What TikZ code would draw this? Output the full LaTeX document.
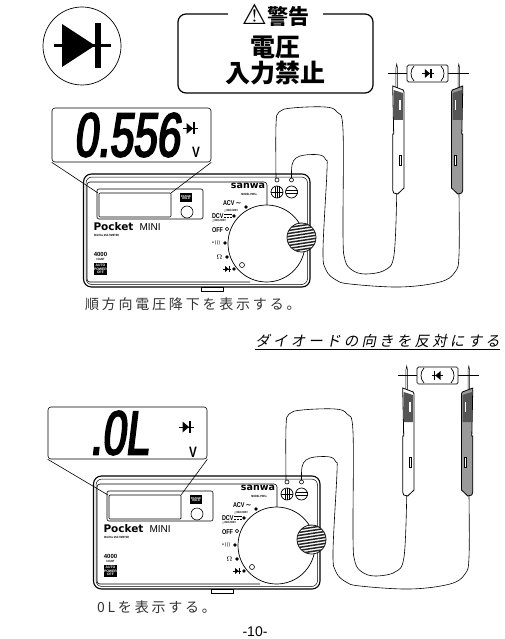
\documentclass[tikz,border=0pt]{standalone}
\usepackage{fontspec}
\usepackage{tikz}
\usetikzlibrary{positioning}
\usetikzlibrary{calc}
\setmainfont{Liberation Sans}
\newfontfamily\cjk{Noto Sans CJK JP}
\newfontfamily\cjkspaced[LetterSpace=20]{Noto Sans CJK JP}
\newfontfamily\cjkslant[LetterSpace=22,FakeSlant=0.2]{Noto Sans CJK JP}
\newfontfamily\lcdfont[FakeSlant=0.12,FakeStretch=0.68,FakeBold=3]{Liberation Sans}
\newfontfamily\narrowfont[FakeStretch=0.78]{Liberation Sans}
\newfontfamily\symfont{DejaVu Sans}
\newcommand{\fs}[1]{\fontsize{#1}{#1}\selectfont}
\definecolor{probegray}{HTML}{9A9A9A}
\definecolor{hatchdark}{HTML}{555555}
\tikzset{
    plain/.style={inner sep=0pt, outer sep=0pt, align=center},
    panellabel/.style={plain, font=\narrowfont\fs{7}\bfseries},
    tinylabel/.style={plain, font=\narrowfont\fs{3}\bfseries},
    caption/.style={plain, anchor=west, text=black!80},
    warnline/.style={plain, font=\cjk\bfseries\fs{25}},
    readout/.style={draw, rounded corners=3pt, line width=0.6pt, minimum height=54pt, minimum width=159pt},
    lcddigits/.style={plain, font=\lcdfont\fs{62}},
    wire/.style={line width=0.6pt},
    seldot/.style={fill, circle, minimum size=3.6pt, inner sep=0pt},
    diodemark/.pic={
        \fill (-3.5,-5.5) -- (-3.5,5.5) -- (3,0) -- cycle;
        \fill (3,-6) rectangle (4.8,6);
        \draw[line width=1pt] (-7,0) -- (7.5,0);
    },
    testprobe/.pic={
        % needle and grip, left hand version
        \draw[line width=0.5pt, fill=white] (3.2,2) -- (3.2,-18) -- (4,-22) -- (4.8,-18) -- (4.8,2);
        \draw[line width=0.8pt, fill=#1] (0,0) -- (10.5,4) -- (11.3,6) -- (11.3,102) -- (5,108) -- (1,107) -- (0,104) -- (0,48) -- (1,48) -- cycle;
        \fill[hatchdark] (1,4) -- (10.2,7) -- (10.2,34) -- (1,34) -- cycle;
        \fill[white] (6.6,14) rectangle (8.2,24);
        \draw[fill=white, line width=0.4pt] (6.2,69) rectangle (8.2,79);
    },
    tester/.pic={
        % case
        \draw[line width=1.1pt, fill=white, rounded corners=8pt] (83.5,174) rectangle (310,287);
        \draw[line width=0.5pt, rounded corners=6pt] (86,177) rectangle (307.5,284.5);
        \draw[line width=0.6pt, fill=white] (201,287) rectangle (223,291);
        \draw[line width=0.6pt, rounded corners=3pt] (267,205) -- (267,182) -- (87,182) -- (87,282) -- (250,282);
        % display
        \draw[line width=0.6pt, rounded corners=2pt] (97,189) rectangle (203,219);
        \draw[line width=0.7pt, rounded corners=1pt] (99,193) rectangle (171,217);
        \coordinate (-lcdl) at (98,193);
        \coordinate (-lcdr) at (171,193);
        \node[plain, fill=black, text=white, font=\fs{2.8}\bfseries, minimum width=12pt, minimum height=9pt] (-hold) at (186,197.5) {RANGE\\HOLD};
        \node[draw, circle, line width=0.6pt, minimum size=12pt, inner sep=0pt] (-holdbtn) at (187,212) {};
        % makers
        \node[plain, font=\symfont\fs{9.5}\bfseries] (-brand) at (248,186) {sanwa};
        \node[tinylabel] (-model) at (249,194) {MODEL:PM7a};
        \node[plain, anchor=west, font=\symfont\fs{10.5}\bfseries] (-pocket) at (93.5,227) {Pocket};
        \node[plain, anchor=west, font=\fs{10}] (-mini) at (139.5,227) {MINI};
        \node[tinylabel, anchor=west] (-dmm) at (94,235) {DIGITAL MULTIMETER};
        \node[plain, font=\fs{6}\bfseries] (-count) at (100.5,254) {4000};
        \node[tinylabel] (-countlbl) at (100.5,259) {COUNT};
        \node[plain, fill=black, text=white, font=\fs{3.4}\bfseries, minimum width=13pt, minimum height=12pt] (-auto) at (100.5,269) {AUTO\\POWER\\OFF};
        % terminals
        \foreach \tx in {277,291.5} {
            \draw[line width=0.6pt, fill=white] (\tx,180) circle (2);
            \draw[line width=0.7pt] (\tx,192) circle (6);
        }
        \draw[line width=0.7pt] (277,186) -- (277,198) (275,186.5) -- (275,197.5) (279,186.5) -- (279,197.5) (271,192) -- (283,192);
        \draw[line width=0.7pt] (285.5,190.5) -- (297.5,190.5) (285.5,193.5) -- (297.5,193.5);
        % dial
        \draw[line width=0.7pt, fill=white] (266.5,243.5) circle (38.5);
        \draw[line width=0.6pt] (242,265) circle (2.5);
        \node[panellabel, anchor=west] (-acv) at (223,203) {ACV\,\symfont\fs{7}∼};
        \node[tinylabel] (-acvmax) at (231,211) {\symfont△\narrowfont MAX.600V};
        \node[panellabel, anchor=west] (-dcv) at (212,216) {DCV};
        \draw[line width=0.8pt] (224,214.5) -- (232,214.5);
        \draw[line width=0.8pt, dash pattern=on 2pt off 1pt] (224,217.5) -- (232,217.5);
        \node[tinylabel] (-dcvmax) at (219,220.5) {\symfont△\narrowfont MAX.600V};
        \node[panellabel] (-off) at (217.5,230) {OFF};
        \node[panellabel, font=\symfont\fs{5}] (-buzz) at (216,243) {•)))};
        \node[panellabel, font=\fs{7}] (-ohm) at (219.5,257) {$\Omega$};
        \node[seldot] (-dota) at (246,207) {};
        \node[seldot] (-dotb) at (234,216) {};
        \node[seldot, fill=none, draw, line width=0.5pt] (-dotc) at (227,229) {};
        \node[seldot] (-dotd) at (225,243) {};
        \node[seldot] (-dote) at (227,257) {};
        \node[seldot] (-dotf) at (234,269) {};
        \pic[scale=0.55] at (227,269) {diodemark};
        % knob
        \draw[fill=white, line width=0.7pt] (301.5,237.5) circle (14.5);
        \begin{scope}
            \clip (301.5,237.5) circle (14.5);
            \foreach \ky in {-4,-1,...,32} {
                \draw[line width=1.5pt, black!85] (285,220+\ky) -- (318,215+\ky);
            }
        \end{scope}
        % leads
        \draw[wire] plot[smooth, tension=0.6] coordinates {(276,178) (276,125) (279,112) (292,108) (325,107) (337,112) (343,130) (343,235) (345,260) (352,270) (365,274) (385,270) (394,255) (396.7,194)};
        \draw[wire] plot[smooth, tension=0.6] coordinates {(291.5,178) (292,165) (296,158) (305,155) (320,155) (326,160) (327,170) (323,250) (326,270) (336,280) (350,284) (400,287) (440,282) (455,272) (459,255) (459,194)};
        % probes and device under test
        \pic at (392.7,86) {testprobe=white};
        \pic[xscale=-1] at (462.8,86) {testprobe=probegray};
        \draw[line width=0.9pt] (388,73) -- (469,73);
        \draw[line width=0.7pt, fill=white, rounded corners=1.5pt] (407,65) -- (448,65) -- (448,82) -- (407,82) -- cycle;
        \draw[line width=0.7pt] (414,66) .. controls (410,70) and (410,77) .. (414,81) (441,66) .. controls (445,70) and (445,77) .. (441,81);
        \pic[scale=0.8, xscale=#1] at (427.7,73.5) {diodemark};
    }
}
\begin{document}
\begin{tikzpicture}[x=1pt, y=-1pt]
    \useasboundingbox (0,0) rectangle (505,639);
    % diode sign
    \node[draw, circle, line width=0.7pt, minimum size=78pt, inner sep=0pt] (signring) at (82,46) {};
    \fill (62,24) -- (62,67) -- (95,45.5) -- cycle;
    \fill (95,23) rectangle (101,68);
    \draw[line width=3pt] (54,46) -- (111,46);
    % warning
    \node[draw, line width=1.2pt, rounded corners=8pt, minimum width=195pt, minimum height=79pt] (warnbox) at (275.5,53.5) {};
    \node[plain, fill=white, minimum width=95pt, minimum height=18pt] (warntitle) at (275.5,15) {\symfont\fs{28}⚠\cjk\bfseries\fs{21}警告};
    \node[warnline] (warntop) at (275.5,47) {電圧};
    \node[warnline] (warnlow) at (275.5,73.5) {入力禁止};
    % first measurement
    \pic (top) at (0,0) {tester=1};
    \node[readout] (readtop) at (131.5,135) {};
    \node[lcddigits, anchor=west] (valuetop) at (74,135) {0.556};
    \pic at (190,128.5) {diodemark};
    \node[plain, font=\narrowfont\fs{15}\bfseries] (volttop) at (196,152.5) {V};
    \draw[line width=0.6pt] (readtop.south west) -- (top-lcdl);
    \draw[line width=0.6pt] (readtop.south east) -- (top-lcdr);
    \node[caption, font=\cjkspaced\fs{14}] (forward) at (85,304) {順方向電圧降下を表示する。};
    \node[plain, font=\cjkslant\fs{14.5}, anchor=east] (reverse) at (500,341) {ダイオードの向きを反対にする};
    \draw[line width=0.7pt] ($(reverse.south west)+(0,2)$) -- ($(reverse.south east)+(0,2)$);
    % second measurement
    \pic (low) at (10,302) {tester=-1};
    \node[readout, minimum height=52pt] (readlow) at (127.5,433) {};
    \node[lcddigits, anchor=west] (valuelow) at (90,433) {.0L};
    \pic at (186,427) {diodemark};
    \node[plain, font=\narrowfont\fs{15}\bfseries] (voltlow) at (193,452) {V};
    \draw[line width=0.6pt] (readlow.south west) -- (low-lcdl);
    \draw[line width=0.6pt] (readlow.south east) -- (low-lcdr);
    \node[caption, font=\cjkspaced\fs{14}] (olcap) at (97,607) {0Lを表示する。};
    \node[plain, font=\fs{14}] (pageno) at (255,632) {-10-};
\end{tikzpicture}
\end{document}
